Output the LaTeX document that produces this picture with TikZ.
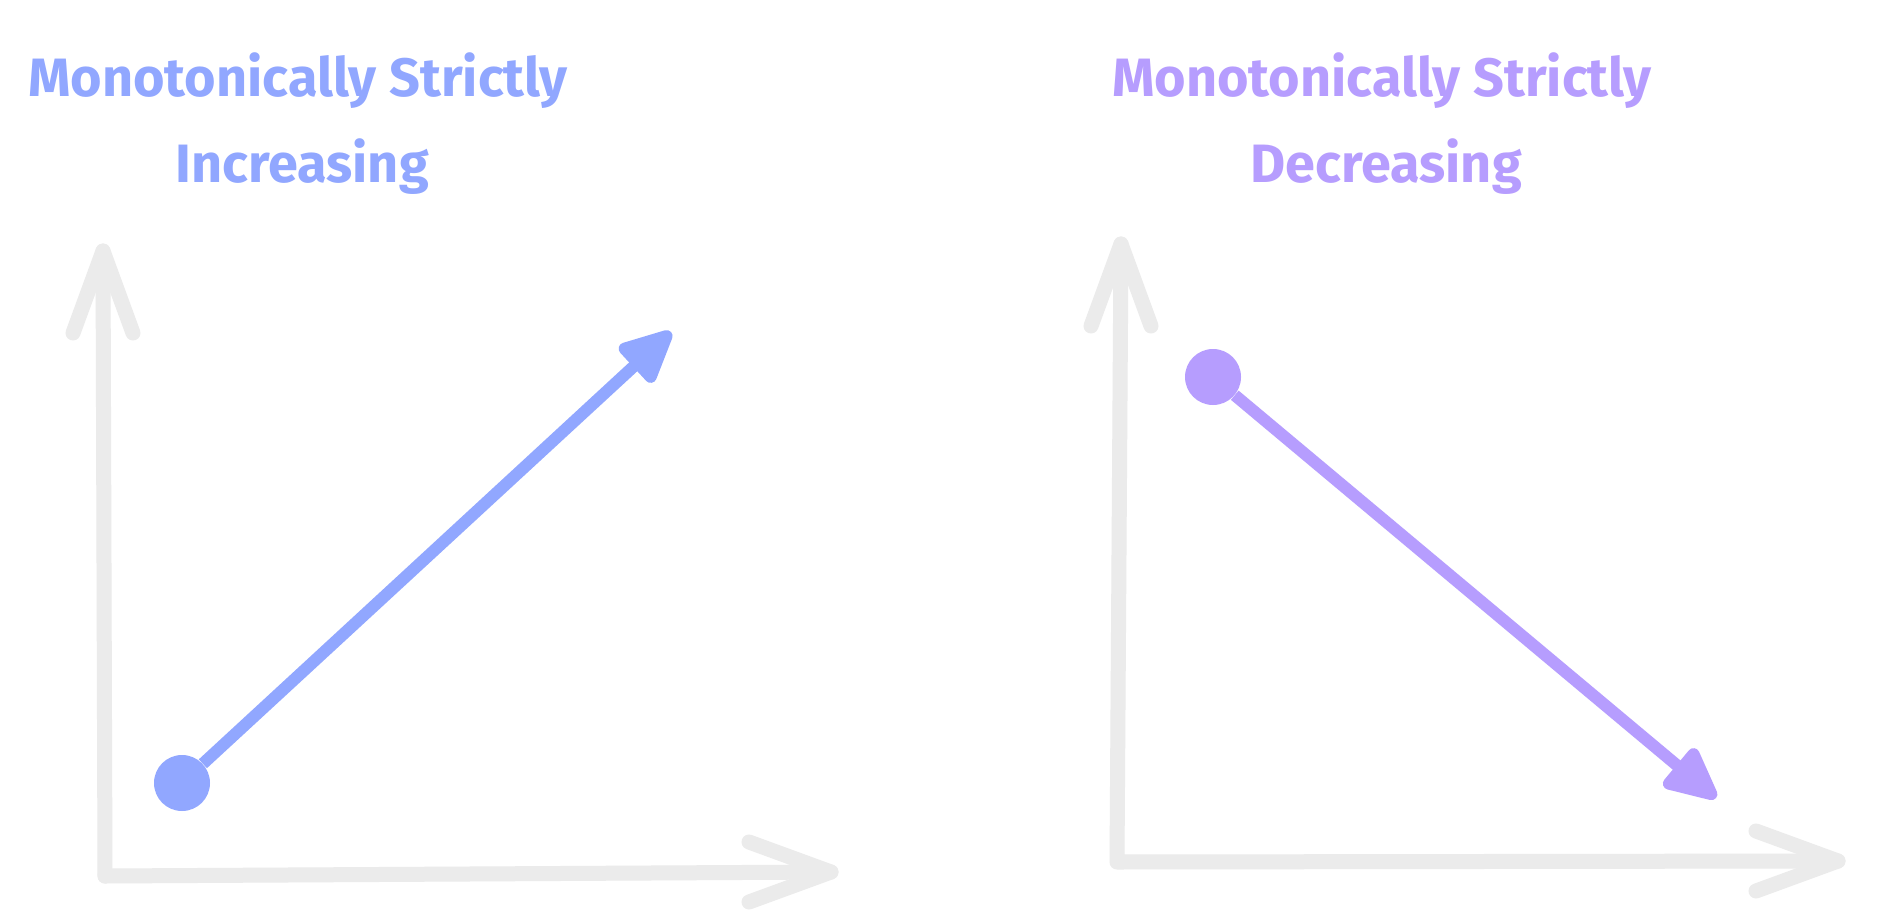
\documentclass[tikz,border=0pt]{standalone}
\usepackage{fontspec}
\setmainfont{Fira Sans}
\usepackage{tikz}
\usetikzlibrary{positioning}
\usetikzlibrary{calc}
\usetikzlibrary{arrows.meta}
\definecolor{axisgray}{HTML}{EBEBEB}
\definecolor{incblue}{HTML}{91A7FF}
\definecolor{decviolet}{HTML}{B69DFE}
\def\barbback{82}
\def\barbside{30}

\begin{document}
\begin{tikzpicture}[x=0.5pt, y=-0.5pt,
  axis/.style={draw=axisgray, line width=7.5pt, line cap=round, line join=round},
  title/.style={anchor=base, font=\fontsize{27}{30}\selectfont\bfseries},
  dot/.style={circle, fill=#1, minimum size=28pt, inner sep=0pt},
  trend/.style={draw=#1, line width=6pt, -{Triangle[length=30pt,width=27pt,round]}}]

\useasboundingbox[fill=white] (0,0) rectangle (1895,915);

% % left: increasing
\node[title, text=incblue] (inchead) at (298,97) {Monotonically Strictly};
\node[title, text=incblue] (incsub) at (302,183) {Increasing};

\coordinate (inco) at (105,876);
\coordinate (incy) at (103,251);
\coordinate (incx) at (831,872);

\draw[axis] (inco) -- (incy);
\draw[axis] ($(incy)+(-\barbside,\barbback)$) -- (incy) -- ($(incy)+(\barbside,\barbback)$);
\draw[axis] (inco) -- (incx);
\draw[axis] ($(incx)+(-\barbback,-\barbside)$) -- (incx) -- ($(incx)+(-\barbback,\barbside)$);

\node[dot=incblue] (incstart) at (182,783) {};
\coordinate (incend) at (671,332);
\draw[trend=incblue] (incstart) -- (incend);

% % right: decreasing
\node[title, text=decviolet] (dechead) at (1382,97) {Monotonically Strictly};
\node[title, text=decviolet] (decsub) at (1386,183) {Decreasing};

\coordinate (deco) at (1117,862);
\coordinate (decy) at (1121,244);
\coordinate (decx) at (1838,861);

\draw[axis] (decy) -- (deco) -- (decx);
\draw[axis] ($(decy)+(-\barbside,\barbback)$) -- (decy) -- ($(decy)+(\barbside,\barbback)$);
\draw[axis] ($(decx)+(-\barbback,-\barbside)$) -- (decx) -- ($(decx)+(-\barbback,\barbside)$);

\node[dot=decviolet] (decstart) at (1213,377) {};
\coordinate (decend) at (1716,798);
\draw[trend=decviolet] (decstart) -- (decend);
\end{tikzpicture}
\end{document}
